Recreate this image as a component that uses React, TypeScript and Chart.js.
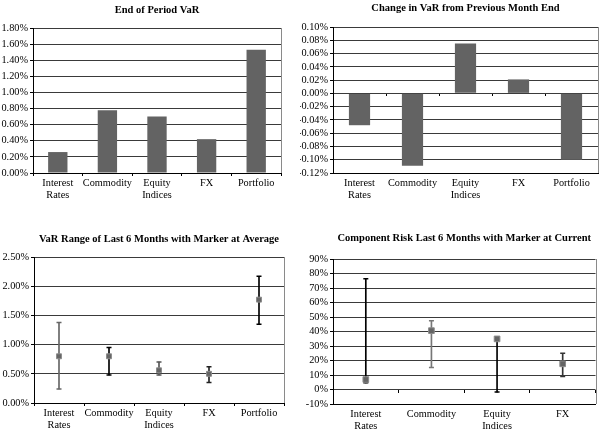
import React, { useEffect, useRef } from 'react';
import { Chart, registerables } from 'chart.js';

Chart.register(...registerables);

const FONT = '"Liberation Serif", "Times New Roman", Times, serif';

// ---------- data ----------
const categories5 = [['Interest', 'Rates'], 'Commodity', ['Equity', 'Indices'], 'FX', 'Portfolio'];
const categories4 = [['Interest', 'Rates'], 'Commodity', ['Equity', 'Indices'], 'FX'];

const titles = [
  'End of Period VaR',
  'Change in VaR from Previous Month End',
  'VaR Range of Last 6 Months with Marker at Average',
  'Component Risk Last 6 Months with Marker at Current',
];

// values in percent
const endOfPeriodVaR = [0.26, 0.78, 0.7, 0.42, 1.53];
const changeInVaR = [-0.048, -0.109, 0.075, 0.021, -0.1];

const varRangeAvg = [0.8, 0.8, 0.56, 0.5, 1.77];
const varRangeHigh = [1.38, 0.95, 0.7, 0.62, 2.17];
const varRangeLow = [0.24, 0.48, 0.48, 0.35, 1.35];

const compCurrent = [6.9, 40.6, 34.9, 17.7];
const compHigh = [76.3, 47.5, 34.9, 25.0];
const compLow = [4.6, 15.2, -1.8, 9.0];

// ---------- styles ----------
const whiskerColors3 = ['#666666', '#000000', '#555555', '#222222', '#000000'];
const whiskerColors4 = ['#000000', '#777777', '#000000', '#333333'];

const fmt2 = (v: number) => `${(Math.abs(v) < 1e-9 ? 0 : v).toFixed(2)}%`;
const fmt0 = (v: number) => `${Math.round(v)}%`;

const titlePlugin = {
  id: 'ctitle',
  afterDraw(chart: any, _args: any, opts: any) {
    const { ctx, chartArea } = chart;
    ctx.save();
    ctx.font = `bold 10.5px ${FONT}`;
    ctx.fillStyle = '#000';
    ctx.textAlign = 'center';
    ctx.textBaseline = 'middle';
    ctx.fillText(opts.text, (chartArea.left + chartArea.right) / 2, opts.y);
    ctx.restore();
  },
};

const framePlugin = {
  id: 'frame',
  afterDraw(chart: any) {
    const { ctx, chartArea } = chart;
    ctx.save();
    ctx.strokeStyle = '#8a8a8a';
    ctx.lineWidth = 1;
    ctx.beginPath();
    const x = Math.round(chartArea.right) + 0.5;
    ctx.moveTo(x, chartArea.top);
    ctx.lineTo(x, chartArea.bottom);
    ctx.stroke();
    ctx.restore();
  },
};

const tickFont = { family: FONT, size: 10.3, lineHeight: 1.12 };

function yScale(min: number, max: number, step: number, fmt: (v: number) => string, width: number) {
  return {
    min,
    max,
    ticks: {
      stepSize: step,
      autoSkip: false,
      callback: (v: any) => fmt(Number(v)),
      font: tickFont,
      color: '#000',
      padding: 2,
    },
    grid: { color: '#3a3a3a', tickLength: 3, tickColor: '#000' },
    border: { color: '#000' },
    afterFit: (s: any) => {
      s.width = width;
    },
  };
}

function xScale(height: number, showTicks: boolean) {
  return {
    offset: true,
    ticks: { font: tickFont, color: '#000', padding: showTicks ? 2 : 2, maxRotation: 0, autoSkip: false },
    grid: { display: showTicks, offset: true, drawOnChartArea: false, tickLength: 3, color: '#000' },
    border: { color: '#000' },
    afterFit: (s: any) => {
      s.height = height;
    },
  };
}

const zeroTickAxis = {
  type: 'category',
  position: { y: 0 },
  offset: true,
  ticks: { display: false },
  grid: { offset: true, drawOnChartArea: false, tickLength: 3, color: '#000' },
  border: { display: false },
  afterFit: (s: any) => {
    s.height = 0;
  },
};

function baseOptions(padding: any, title: string, titleY: number, scales: any) {
  return {
    responsive: false,
    animation: false,
    layout: { padding },
    plugins: {
      legend: { display: false },
      tooltip: { enabled: false },
      title: { display: false },
      ctitle: { text: title, y: titleY },
    },
    scales,
  };
}

function config1(): any {
  return {
    type: 'bar',
    data: {
      labels: categories5,
      datasets: [
        {
          data: endOfPeriodVaR,
          backgroundColor: '#636363',
          borderWidth: 0,
          barPercentage: 0.39,
          categoryPercentage: 1,
        },
      ],
    },
    options: baseOptions({ top: 28, right: 19, left: 0, bottom: 0 }, titles[0], 10, {
      x: xScale(42, true),
      y: yScale(0, 1.8, 0.2, fmt2, 33),
    }),
    plugins: [titlePlugin, framePlugin],
  };
}

function config2(): any {
  return {
    type: 'bar',
    data: {
      labels: categories5,
      datasets: [
        {
          data: changeInVaR,
          backgroundColor: '#636363',
          borderWidth: 0,
          barPercentage: 0.4,
          categoryPercentage: 1,
        },
      ],
    },
    options: baseOptions({ top: 27, right: 3, left: 0, bottom: 0 }, titles[1], 8, {
      x: xScale(42, false),
      x2: zeroTickAxis,
      y: yScale(-0.12, 0.1, 0.02, fmt2, 33),
    }),
    plugins: [titlePlugin, framePlugin],
  };
}

function rangeDatasets(low: number[], high: number[], mark: number[], colors: string[], markRadius: number) {
  return [
    {
      type: 'line',
      data: mark,
      showLine: false,
      pointStyle: 'rect',
      pointRadius: markRadius,
      pointBackgroundColor: '#656565',
      pointBorderColor: '#8c8c8c',
      pointBorderWidth: 1,
      order: 0,
    },
    {
      type: 'line',
      data: high,
      showLine: false,
      pointStyle: 'line',
      pointRadius: 2.5,
      pointBorderColor: colors,
      pointBorderWidth: 1.5,
      order: 1,
    },
    {
      type: 'line',
      data: low,
      showLine: false,
      pointStyle: 'line',
      pointRadius: 2.5,
      pointBorderColor: colors,
      pointBorderWidth: 1.5,
      order: 1,
    },
    {
      type: 'bar',
      data: low.map((l, i) => [l, high[i]]),
      backgroundColor: colors,
      borderWidth: 0,
      barThickness: 1,
      order: 2,
    },
  ];
}

function config3(): any {
  return {
    type: 'bar',
    data: {
      labels: categories5,
      datasets: rangeDatasets(varRangeLow, varRangeHigh, varRangeAvg, whiskerColors3, 3.5),
    },
    options: baseOptions({ top: 37, right: 16, left: 0, bottom: 0 }, titles[2], 19, {
      x: xScale(29, true),
      y: yScale(0, 2.5, 0.5, fmt2, 34),
    }),
    plugins: [titlePlugin, framePlugin],
  };
}

function config4(): any {
  return {
    type: 'bar',
    data: {
      labels: categories4,
      datasets: rangeDatasets(compLow, compHigh, compCurrent, whiskerColors4, 4),
    },
    options: baseOptions({ top: 39, right: 3, left: 0, bottom: 0 }, titles[3], 18, {
      x: xScale(28, false),
      x2: zeroTickAxis,
      y: yScale(-10, 90, 10, fmt0, 33),
    }),
    plugins: [titlePlugin, framePlugin],
  };
}

function Panel(props: { left: number; top: number; width: number; height: number; make: () => any }) {
  const ref = useRef<HTMLCanvasElement | null>(null);
  useEffect(() => {
    if (!ref.current) return;
    const chart = new Chart(ref.current, props.make());
    return () => chart.destroy();
  }, []);
  return (
    <div style={{ position: 'absolute', left: props.left, top: props.top, width: props.width, height: props.height }}>
      <canvas ref={ref} width={props.width} height={props.height} style={{ display: 'block' }} />
    </div>
  );
}

export default function App() {
  return (
    <div style={{ position: 'fixed', left: 0, top: 0, width: 601, height: 432, background: '#fff', overflow: 'hidden' }}>
      <Panel left={0} top={0} width={300} height={215} make={config1} />
      <Panel left={300} top={0} width={301} height={215} make={config2} />
      <Panel left={0} top={220} width={300} height={212} make={config3} />
      <Panel left={300} top={220} width={301} height={212} make={config4} />
    </div>
  );
}
